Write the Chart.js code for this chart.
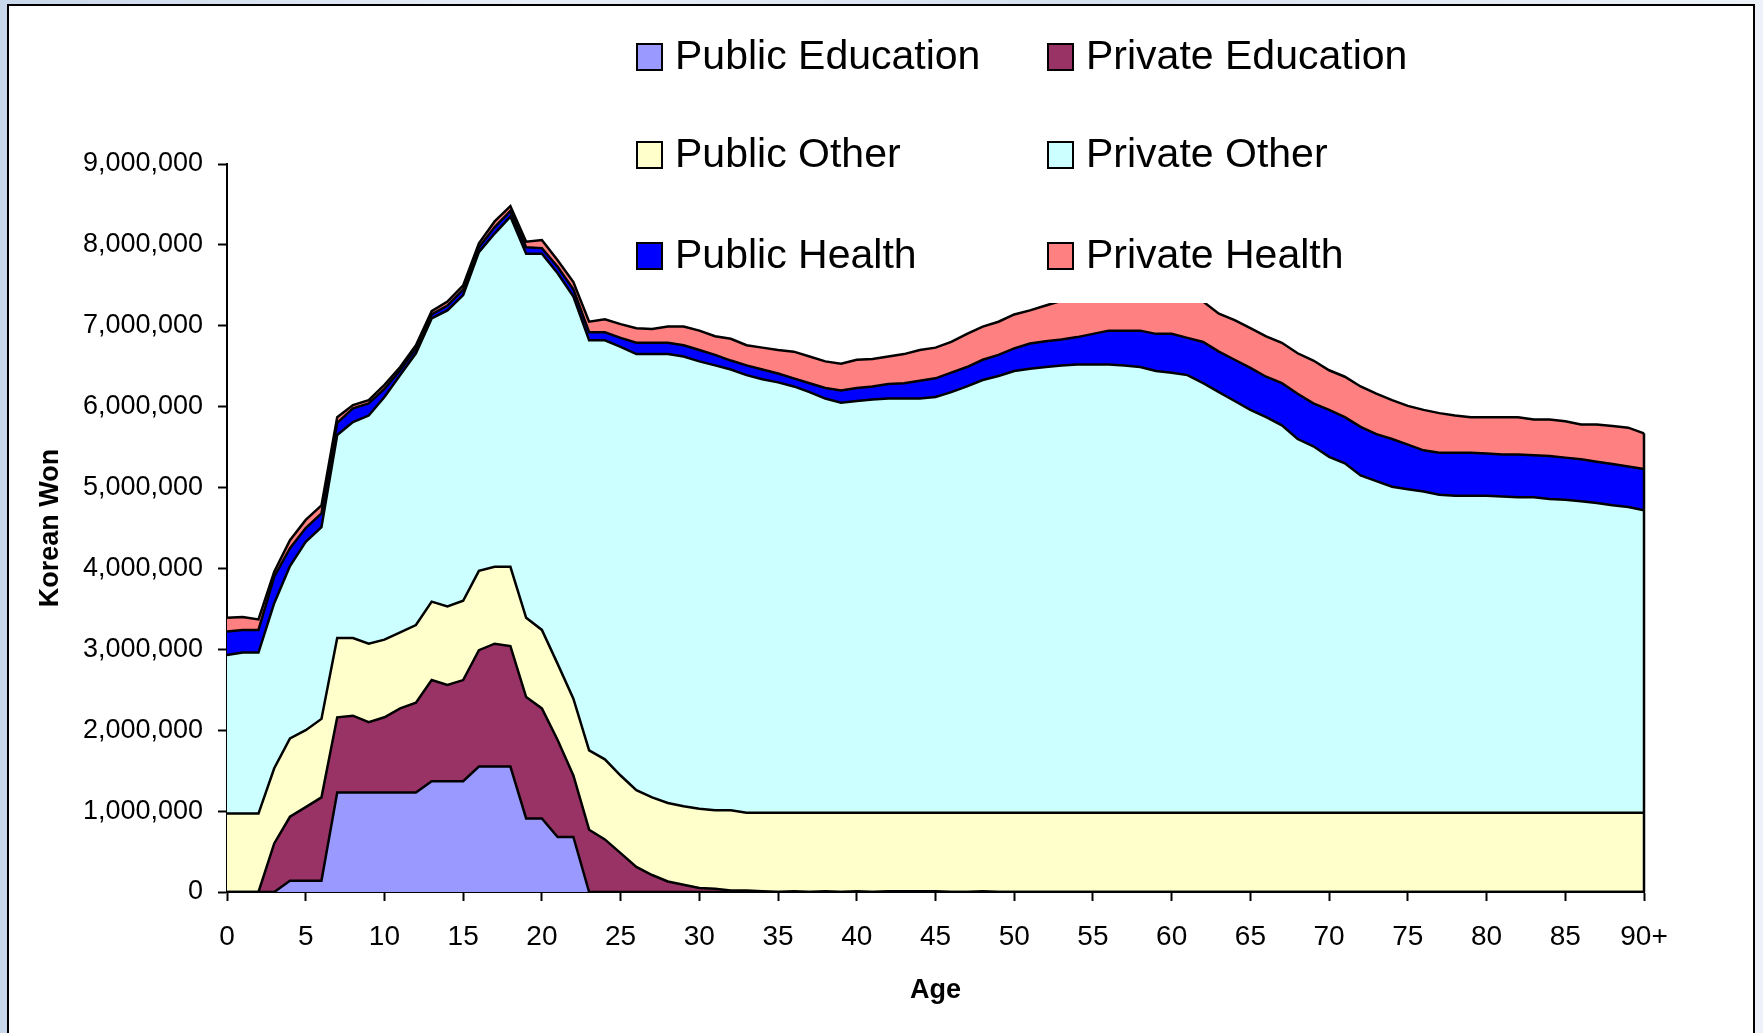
<!DOCTYPE html>
<html>
<head>
<meta charset="utf-8">
<title>Korean Won by Age</title>
<script src="https://cdn.jsdelivr.net/npm/chart.js@4.4.1/dist/chart.umd.min.js"></script>
<style>
    html, body { margin: 0; padding: 0; }
    body {
        width: 1763px;
        height: 1033px;
        overflow: hidden;
        position: relative;
        background: linear-gradient(90deg, #c9d7ea 0%, #e8eef7 30%, #d5e0ee 60%, #edf2f9 100%);
    }
    #frame {
        position: absolute;
        left: 7px;
        top: 4px;
        width: 1748px;
        height: 1040px;
        background: #fff;
        border: 2px solid #000;
        box-sizing: border-box;
    }
    #chart { position: absolute; left: 0; top: 0; }
</style>
</head>
<body>
<div id="frame"></div>
<canvas id="chart" width="1763" height="1033"></canvas>
<script>
// Ages 0 .. 89, then 90+
const ages = Array.from({ length: 90 }, (_, i) => String(i)).concat(['90+']);

const publicEducation = [
    0, 0, 0, 0, 140000, 140000, 140000, 1230000, 1230000, 1230000,
    1230000, 1230000, 1230000, 1370000, 1370000, 1370000, 1550000, 1550000, 1550000, 910000,
    910000, 680000, 680000, 0, 0, 0, 0, 0, 0, 0,
    0, 0, 0, 0, 0, 0, 0, 0, 0, 0,
    0, 0, 0, 0, 0, 0, 0, 0, 0, 0,
    0, 0, 0, 0, 0, 0, 0, 0, 0, 0,
    0, 0, 0, 0, 0, 0, 0, 0, 0, 0,
    0, 0, 0, 0, 0, 0, 0, 0, 0, 0,
    0, 0, 0, 0, 0, 0, 0, 0, 0, 0,
    0
];

const privateEducation = [
    0, 0, 0, 600000, 790000, 910000, 1030000, 930000, 950000, 870000,
    930000, 1040000, 1110000, 1250000, 1190000, 1250000, 1440000, 1520000, 1490000, 1500000,
    1360000, 1200000, 760000, 770000, 650000, 480000, 310000, 210000, 130000, 90000,
    50000, 40000, 20000, 20000, 10000, 0, 10000, 0, 10000, 0,
    10000, 0, 10000, 10000, 10000, 10000, 0, 0, 10000, 0,
    0, 0, 0, 0, 0, 0, 0, 0, 0, 0,
    0, 0, 0, 0, 0, 0, 0, 0, 0, 0,
    0, 0, 0, 0, 0, 0, 0, 0, 0, 0,
    0, 0, 0, 0, 0, 0, 0, 0, 0, 0,
    0
];

const publicOther = [
    970000, 970000, 970000, 930000, 970000, 950000, 970000, 980000, 960000, 970000,
    960000, 940000, 960000, 970000, 970000, 980000, 980000, 950000, 980000, 980000,
    970000, 940000, 950000, 980000, 990000, 960000, 950000, 960000, 970000, 970000,
    980000, 970000, 990000, 960000, 970000, 980000, 970000, 980000, 970000, 980000,
    970000, 980000, 970000, 970000, 970000, 970000, 980000, 980000, 970000, 980000,
    980000, 980000, 980000, 980000, 980000, 980000, 980000, 980000, 980000, 980000,
    980000, 980000, 980000, 980000, 980000, 980000, 980000, 980000, 980000, 980000,
    980000, 980000, 980000, 980000, 980000, 980000, 980000, 980000, 980000, 980000,
    980000, 980000, 980000, 980000, 980000, 980000, 980000, 980000, 980000, 980000,
    980000
];

const privateOther = [
    1960000, 1990000, 1990000, 2040000, 2130000, 2330000, 2370000, 2510000, 2670000, 2820000,
    3000000, 3180000, 3360000, 3500000, 3660000, 3780000, 3940000, 4120000, 4330000, 4500000,
    4650000, 4830000, 4970000, 5070000, 5180000, 5300000, 5390000, 5480000, 5550000, 5560000,
    5530000, 5500000, 5450000, 5410000, 5360000, 5320000, 5270000, 5200000, 5120000, 5070000,
    5090000, 5110000, 5120000, 5120000, 5120000, 5140000, 5200000, 5270000, 5350000, 5400000,
    5460000, 5490000, 5510000, 5530000, 5540000, 5540000, 5540000, 5530000, 5510000, 5460000,
    5440000, 5410000, 5310000, 5200000, 5090000, 4980000, 4890000, 4790000, 4620000, 4530000,
    4400000, 4320000, 4170000, 4100000, 4030000, 4000000, 3970000, 3930000, 3920000, 3920000,
    3920000, 3910000, 3900000, 3900000, 3880000, 3870000, 3850000, 3830000, 3800000, 3780000,
    3740000
];

const publicHealth = [
    290000, 280000, 280000, 330000, 220000, 170000, 170000, 150000, 170000, 150000,
    100000, 60000, 60000, 50000, 60000, 70000, 60000, 80000, 70000, 80000,
    70000, 80000, 90000, 100000, 100000, 110000, 140000, 140000, 140000, 140000,
    140000, 130000, 110000, 120000, 120000, 110000, 100000, 110000, 130000, 150000,
    160000, 160000, 180000, 190000, 220000, 230000, 240000, 240000, 250000, 260000,
    280000, 310000, 320000, 320000, 340000, 380000, 420000, 430000, 450000, 460000,
    480000, 460000, 510000, 500000, 510000, 520000, 500000, 520000, 560000, 530000,
    580000, 570000, 600000, 580000, 590000, 550000, 510000, 520000, 530000, 530000,
    520000, 520000, 530000, 520000, 530000, 520000, 520000, 510000, 510000, 500000,
    510000
];

const privateHealth = [
    170000, 160000, 130000, 60000, 100000, 100000, 100000, 70000, 40000, 40000,
    50000, 40000, 40000, 40000, 50000, 50000, 50000, 70000, 60000, 70000,
    100000, 80000, 90000, 130000, 160000, 170000, 180000, 170000, 200000, 230000,
    240000, 230000, 270000, 250000, 270000, 290000, 330000, 330000, 330000, 330000,
    350000, 340000, 340000, 360000, 380000, 380000, 380000, 410000, 410000, 410000,
    420000, 410000, 440000, 480000, 480000, 470000, 460000, 470000, 470000, 500000,
    480000, 510000, 500000, 470000, 490000, 490000, 500000, 500000, 500000, 530000,
    490000, 500000, 500000, 500000, 480000, 480000, 500000, 490000, 460000, 440000,
    450000, 460000, 460000, 440000, 450000, 450000, 430000, 460000, 470000, 480000,
    440000
];

const seriesNames = ['Public Education', 'Private Education', 'Public Other',
                     'Private Other', 'Public Health', 'Private Health'];
const seriesValues = [publicEducation, privateEducation, publicOther,
                      privateOther, publicHealth, privateHealth];
const seriesColors = ['#9999ff', '#993366', '#ffffcc', '#ccffff', '#0000ff', '#ff8080'];

const FONT = "'Liberation Sans', Arial, sans-serif";

// Legend sits in a white box over the top of the plot, two columns by three rows
const legendOrder = [[0, 1], [2, 3], [4, 5]];
const legendPlugin = {
    id: 'boxLegend',
    afterDraw(chart) {
        const ctx = chart.ctx;
        ctx.save();
        ctx.fillStyle = '#ffffff';
        ctx.fillRect(625, 8, 805, 295);
        ctx.font = '41px ' + FONT;
        ctx.textBaseline = 'middle';
        ctx.textAlign = 'left';
        const colX = [637, 1048];
        const rowY = [57, 155, 256];
        legendOrder.forEach((row, r) => {
            row.forEach((idx, c) => {
                ctx.fillStyle = seriesColors[idx];
                ctx.fillRect(colX[c], rowY[r] - 13, 25, 26);
                ctx.lineWidth = 2;
                ctx.strokeStyle = '#000';
                ctx.strokeRect(colX[c], rowY[r] - 13, 25, 26);
                ctx.fillStyle = '#000';
                ctx.fillText(seriesNames[idx], colX[c] + 38, rowY[r] + 1);
            });
        });
        ctx.restore();
    }
};

// Closing edge on the right side of the stacked area
const edgePlugin = {
    id: 'rightEdge',
    afterDatasetsDraw(chart) {
        const metaTop = chart.getDatasetMeta(chart.data.datasets.length - 1);
        const last = metaTop.data[metaTop.data.length - 1];
        const y0 = chart.scales.y.getPixelForValue(0);
        const ctx = chart.ctx;
        ctx.save();
        ctx.strokeStyle = '#000';
        ctx.lineWidth = 2.5;
        ctx.beginPath();
        ctx.moveTo(last.x, y0);
        ctx.lineTo(last.x, last.y);
        ctx.stroke();
        ctx.restore();
    }
};

function buildDatasets() {
    return seriesNames.map((name, i) => ({
        label: name,
        data: seriesValues[i],
        backgroundColor: seriesColors[i],
        borderColor: '#000000',
        borderWidth: 2.5,
        pointRadius: 0,
        tension: 0,
        fill: i === 0 ? 'origin' : '-1'
    }));
}

document.addEventListener('DOMContentLoaded', function() {
    const ctx = document.getElementById('chart').getContext('2d');

    new Chart(ctx, {
        type: 'line',
        data: {
            labels: ages,
            datasets: buildDatasets()
        },
        options: {
            responsive: false,
            animation: false,
            devicePixelRatio: 1,
            layout: {
                padding: { left: 20, top: 164, right: 119, bottom: 23 }
            },
            plugins: {
                legend: { display: false },
                tooltip: { enabled: false }
            },
            scales: {
                x: {
                    type: 'category',
                    offset: false,
                    afterFit: function(scale) {
                        scale.height = 118;
                        scale.paddingLeft = 0;
                        scale.paddingRight = 0;
                    },
                    ticks: {
                        autoSkip: false,
                        maxRotation: 0,
                        padding: 19,
                        color: '#000',
                        font: { family: FONT, size: 28 },
                        callback: function(value, index) {
                            // Only every 5th age is labelled
                            return index % 5 === 0 ? ages[index] : '';
                        }
                    },
                    grid: {
                        display: true,
                        drawOnChartArea: false,
                        tickLength: 9,
                        tickWidth: 2,
                        tickColor: c => (c.index % 5 === 0 ? '#000' : 'rgba(0,0,0,0)')
                    },
                    border: { color: '#000', width: 2 },
                    title: {
                        display: true,
                        text: 'Age',
                        color: '#000',
                        font: { family: FONT, size: 27, weight: 'bold' },
                        padding: { top: 0, bottom: 3 }
                    }
                },
                y: {
                    stacked: true,
                    min: 0,
                    max: 9000000,
                    afterFit: function(scale) {
                        scale.width = 207;
                        scale.paddingTop = 0;
                        scale.paddingBottom = 0;
                    },
                    ticks: {
                        stepSize: 1000000,
                        padding: 15,
                        color: '#000',
                        font: { family: FONT, size: 27 },
                        callback: v => v.toLocaleString('en-US')
                    },
                    grid: {
                        display: true,
                        drawOnChartArea: false,
                        tickLength: 9,
                        tickWidth: 2,
                        tickColor: '#000'
                    },
                    border: { color: '#000', width: 2 },
                    title: {
                        display: true,
                        text: 'Korean Won',
                        color: '#000',
                        font: { family: FONT, size: 27, weight: 'bold' },
                        padding: { top: 14, bottom: 0 }
                    }
                }
            }
        },
        plugins: [edgePlugin, legendPlugin]
    });
});
</script>
</body>
</html>
